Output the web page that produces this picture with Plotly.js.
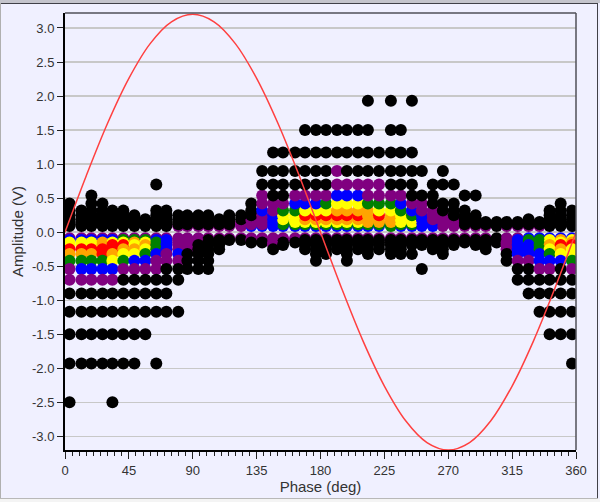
<!DOCTYPE html>
<html>
<head>
<meta charset="utf-8">
<script src="https://cdn.plot.ly/plotly-3.0.1.min.js"></script>
<style>
html,body{margin:0;padding:0;background:#f0f0ff;overflow:hidden}
#frame{position:absolute;left:0;top:0;width:600px;height:502px;background:#f0f0ff}
#plot{position:absolute;left:0;top:0;width:600px;height:502px}
.edge{position:absolute}
</style>
</head>
<body>
<div id="frame">
<div id="plot"></div>
<div class="edge" style="left:0;top:0;width:600px;height:3px;background:#c4c4cc"></div>
<div class="edge" style="left:0;top:3px;width:598px;height:1px;background:#404048"></div>
<div class="edge" style="left:0;top:3px;width:1px;height:496px;background:#b0b0b0"></div>
<div class="edge" style="left:597px;top:3px;width:1px;height:496px;background:#404048"></div>
<div class="edge" style="left:0;top:498px;width:598px;height:1px;background:#b8b8b8"></div>
<div class="edge" style="left:0;top:499px;width:600px;height:3px;background:#f4f4f4"></div>
</div>
<script>
// Amplitude levels (V), inner to outer; mirrored for the negative half
const levels = [0.09,0.115,0.15,0.19,0.25,0.32,0.42,0.54,0.7,0.9,1.17,1.5,1.93,2.5];
// Phase of each column (deg)
const phases = [3.2,11.6,18.6,26.4,33.4,41.1,48.9,56.6,64.3,71.4,79.8,86.2,93.9,100.9,108.6,115.7,
124.1,131.2,138.9,146.6,153.6,162.1,169.1,176.8,183.9,191.6,198.6,206.4,213.4,221.2,229.6,236.6,
244.4,251.4,259.1,266.2,273.9,281.6,289.3,296.4,304.1,311.1,318.9,326.6,334.3,341.4,349.2,357.2];
// Each string: density class per level, inner to outer ('.' = no hits)
const positive = ["KKKKKKK","KKKKKK","KKKKKKKK","KKKKKKK","KKKKKK","KKKKKK","KKKKK","KKKK",
"KKKKKK..K","KKKKKK","PKKKK","PKKKK","PKKKK","PKKKK","PKKK","PKKKK",
"PPPKK","BPPPKKK","BPPPPBPPKK","BBBBBPPKKKK","BGGYYGPKKKK","BGYYYGBPKKK","BGYORYBPKKKK","BGYORYBPKKKK",
"BGYORYGPKKKK","BGYOROYBPPKK","BGYOROYBPKKK","BGYOROYBPKKK","BGOOOOGPPKKKK","BGOORYGPPKK","GGOOOYGPKKKKK","BGYYYGBPKKKK",
"BGYYGBPKKKK.K","BBBBBPPK.K","BBBPPPKKK","PPPPPKK.KK","PPPPKKK.K","PKKKKK.K","PKKKK..K","PKK",
"KKK","PKK","PKK","PKKK","PKK","KKKKKK","KKKKKKK","KKKKKK"];
const negative = ["PBYYROGPPKKKKK","PBYYROGBPKKKK","PBYYROGBPKKKK","PBOORRGBPKKKK","PBYRROYBPKKKKK","PGYROYGPKKKKK","PGOYOYBPKKKKK","PGYOYGBPKKKK",
"PBGGGBPPKKK.K","PBBBBPPKKKK","PPPPPBPKK.K","PPPPPKKK","PPPKKKKK","PKKKKKKK","PKKKK","PK",
"PK","PPK","PPK","PPPPK","PPKK","PPK","PKKKK","PKKKKKK",
"PKKKKK","PKKKK","PKKKKKK","PKKKK","PKKKKK","PKKKK","PKKKKK","PKKKKK",
"PKKK.K","PKKK...K","PKKKK","PKKKKK","PKKK","PKK","PKKK","PKKKK",
"KKK","PPPPPKK","PBBBBBPKK","BGGBBBPKKK","BGGGGBBPKKK","BYYOYGBPKKKK","BOYROYBKKKKK","BYORYYGPKKKKK"];
const classColors = {K:"#000000",P:"#800080",B:"#0000ff",G:"#008000",Y:"#ffff00",O:"#ffa500",R:"#ff0000"};
// Reference wave
const wavePhase = [0,15,30,45,60,75,90,105,120,135,150,165,180,195,210,225,240,255,270,285,300,315,330,345,360];
const waveVolts = [0,0.83,1.6,2.26,2.77,3.09,3.2,3.09,2.77,2.26,1.6,0.83,0,-0.83,-1.6,-2.26,-2.77,-3.09,-3.2,-3.09,-2.77,-2.26,-1.6,-0.83,0];
const xTicks = [0,45,90,135,180,225,270,315,360];
const yTicks = [3,2.5,2,1.5,1,0.5,0,-0.5,-1,-1.5,-2,-2.5,-3];

const xs=[],ys=[],cs=[];
levels.forEach((v,k)=>{
  phases.forEach((p,i)=>{
    const a=positive[i][k], b=negative[i][k];
    if(a && a!=='.'){xs.push(p);ys.push(v);cs.push(classColors[a]);}
    if(b && b!=='.'){xs.push(p);ys.push(-v);cs.push(classColors[b]);}
  });
});
const fam='"Liberation Sans",Arial,sans-serif';
const tickFont={family:fam,size:13,color:'#333333'};
const titleFont={family:fam,size:15,color:'#333333'};
Plotly.newPlot('plot',[
 {type:'scatter',mode:'markers',x:xs,y:ys,hoverinfo:'skip',showlegend:false,
  marker:{size:12,color:cs,line:{width:0}}},
 {type:'scatter',mode:'lines',x:wavePhase,y:waveVolts,hoverinfo:'skip',showlegend:false,
  line:{color:'#ff4040',width:1.5,shape:'spline',smoothing:1}}
],{
 width:600,height:502,
 paper_bgcolor:'rgba(0,0,0,0)',plot_bgcolor:'#f0f0ff',
 margin:{l:64.5,r:23.5,t:13,b:52,pad:0},
 font:tickFont,showlegend:false,
 xaxis:{range:[0,360],tickmode:'array',tickvals:xTicks,ticks:'outside',ticklen:7,tickwidth:1,tickcolor:'#222',
  minor:{dtick:5,ticks:'outside',ticklen:4,tickwidth:1,tickcolor:'#222',showgrid:false},
  showgrid:false,zeroline:false,showline:true,linecolor:'#000',linewidth:2,tickfont:tickFont,
  title:{text:'Phase (deg)',font:titleFont,standoff:5}},
 yaxis:{range:[-3.2,3.22],tickmode:'array',tickvals:yTicks,ticktext:yTicks.map(v=>v.toFixed(1)),ticks:'outside',ticklen:6,tickwidth:1,tickcolor:'#222',
  showgrid:true,gridcolor:'#c8c8c8',gridwidth:1.5,zeroline:false,showline:true,linecolor:'#000',linewidth:2,tickfont:tickFont,
  title:{text:'Amplitude (V)',font:titleFont,standoff:5}},
 shapes:[
  {type:'line',xref:'paper',yref:'paper',x0:0,x1:1,y0:1,y1:1,line:{color:'#505058',width:1.5}},
  {type:'line',xref:'paper',yref:'paper',x0:1,x1:1,y0:0,y1:1,line:{color:'#505058',width:1.5}}
 ]
},{displayModeBar:false,staticPlot:true});
</script>
</body>
</html>
